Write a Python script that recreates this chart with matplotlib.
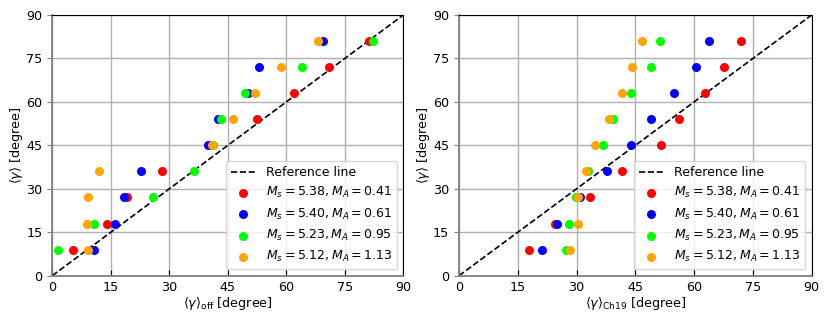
import matplotlib.pyplot as plt
import numpy as np

# true (input) angles
gamma = [9, 18, 27, 36, 45, 54, 63, 72, 81]

labels = [r'$M_s = 5.38, M_A = 0.41$',
          r'$M_s = 5.40, M_A = 0.61$',
          r'$M_s = 5.23, M_A = 0.95$',
          r'$M_s = 5.12, M_A = 1.13$']
colors = ['red', 'blue', 'lime', 'orange']

# left panel: <gamma>_off
off_red = [5.4, 13.9, 19.2, 28.1, 40.6, 52.6, 61.9, 70.9, 81.3]
off_blue = [10.8, 16.0, 18.3, 22.7, 39.8, 42.6, 50.2, 53.1, 69.3]
off_green = [1.4, 10.8, 25.8, 36.2, 41.2, 43.2, 49.3, 64.0, 82.2]
off_orange = [9.2, 8.8, 9.1, 12.1, 40.9, 46.2, 51.9, 58.7, 68.0]

# right panel: <gamma>_Ch19
ch_red = [17.8, 24.6, 33.5, 41.5, 51.5, 56.1, 62.8, 67.7, 71.9]
ch_blue = [21.3, 25.0, 30.8, 37.8, 43.9, 49.0, 54.9, 60.4, 63.7]
ch_green = [27.3, 28.1, 29.9, 32.8, 36.7, 39.4, 43.8, 49.1, 51.4]
ch_orange = [28.2, 30.3, 30.3, 32.5, 34.8, 38.3, 41.7, 44.1, 46.7]

plt.rcParams['font.size'] = 9.2

fig = plt.figure(figsize=(8.3, 3.18), dpi=100)
ax1 = fig.add_axes([0.063, 0.133, 0.423, 0.820])
ax2 = fig.add_axes([0.553, 0.133, 0.425, 0.820])

panels = [(ax1, [off_red, off_blue, off_green, off_orange], r'$\langle\gamma\rangle_{\rm off}$ [degree]'),
          (ax2, [ch_red, ch_blue, ch_green, ch_orange], r'$\langle\gamma\rangle_{\rm Ch19}$ [degree]')]

for ax, series, xlab in panels:
    ax.plot([0, 90], [0, 90], 'k--', lw=1.2, label='Reference line', zorder=2)
    for xs, c, lab in zip(series, colors, labels):
        ax.scatter(xs, gamma, s=30, color=c, label=lab, zorder=3)
    ax.set_xlim(0, 90)
    ax.set_ylim(0, 90)
    ax.set_xticks(np.arange(0, 91, 15))
    ax.set_yticks(np.arange(0, 91, 15))
    ax.grid(True, color='#b0b0b0', lw=1)
    ax.tick_params(axis='x', direction='in', length=4)
    ax.tick_params(axis='y', direction='out', length=3.5, color='#808080')
    for side in ['left', 'bottom']:
        ax.spines[side].set_color('#808080')
        ax.spines[side].set_linewidth(1.3)
    ax.set_xlabel(xlab, labelpad=1)
    ax.set_ylabel(r'$\langle\gamma\rangle$ [degree]', labelpad=1)
    ax.legend(loc='lower right', fontsize=9)

plt.savefig('out.png', dpi=100)
